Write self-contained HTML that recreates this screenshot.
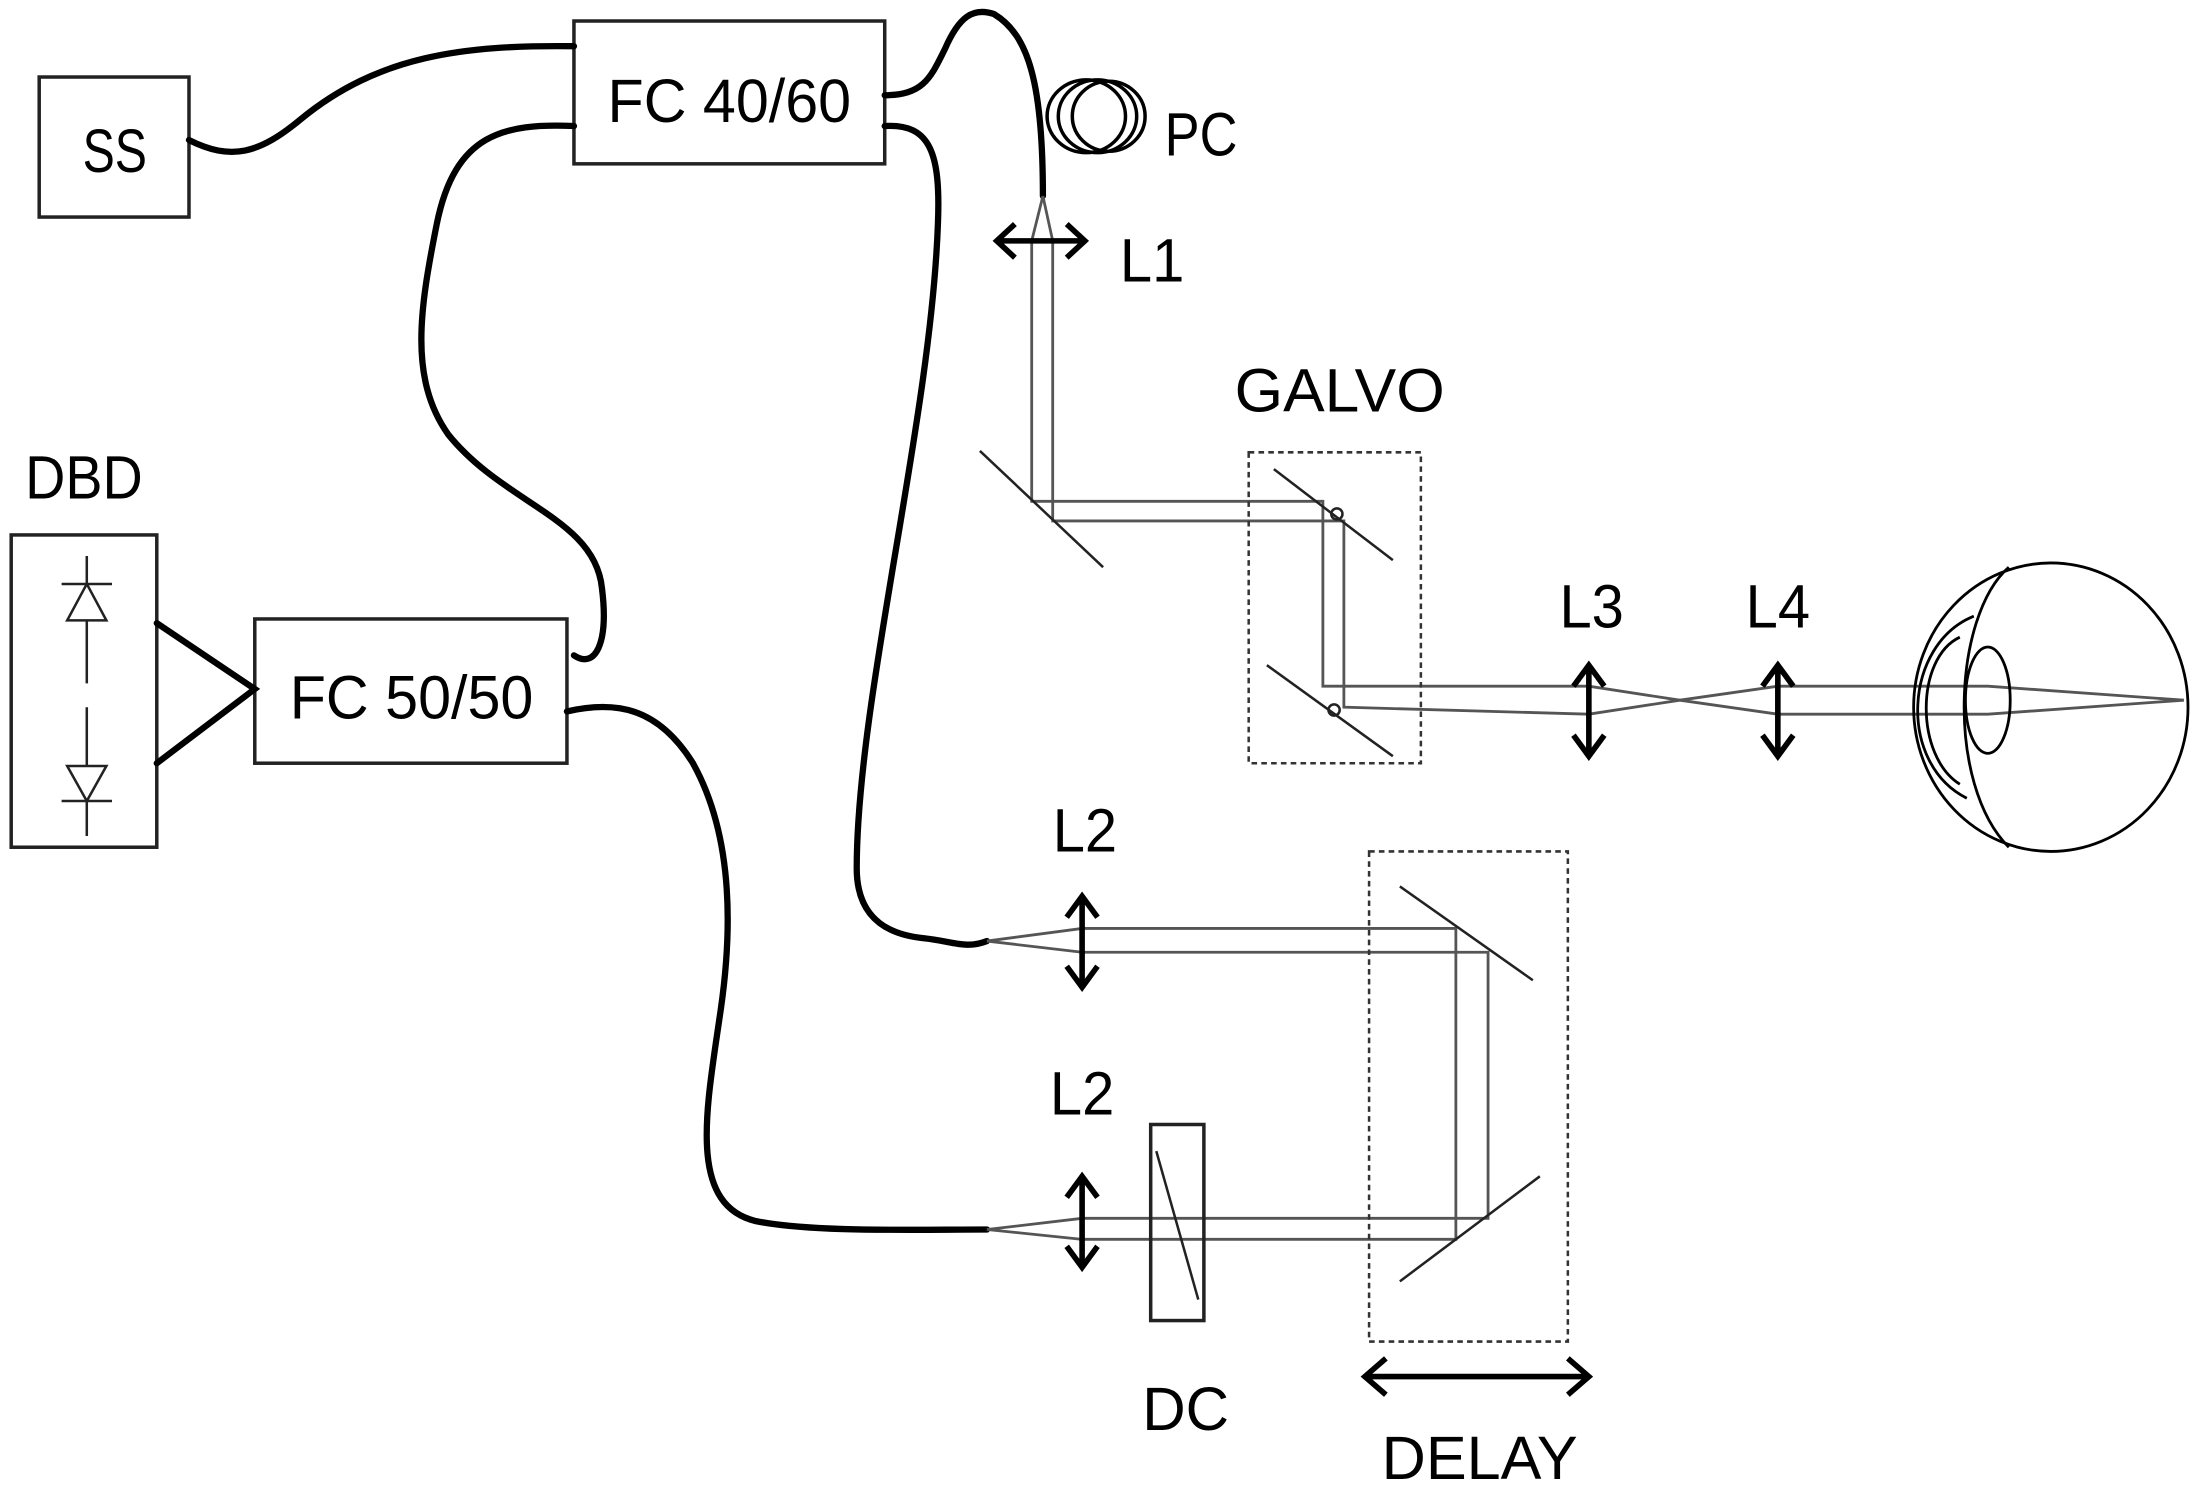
<!DOCTYPE html>
<html><head><meta charset="utf-8"><style>html,body{margin:0;padding:0;background:#fff}svg{display:block}</style></head>
<body>
<svg width="2195" height="1490" viewBox="0 0 1568 1064" preserveAspectRatio="none" xmlns="http://www.w3.org/2000/svg">
<g font-family="Liberation Sans, sans-serif" font-size="44" fill="#000" text-anchor="middle">
<!-- boxes -->
<g fill="none" stroke="#222" stroke-width="2.5">
<rect x="28" y="55" width="107" height="100"/>
<rect x="410" y="15" width="222" height="102"/>
<rect x="182" y="442" width="223" height="103"/>
<rect x="8" y="382" width="104" height="223"/>
</g>
<text x="82" y="123" textLength="46" lengthAdjust="spacingAndGlyphs">SS</text>
<text x="521" y="87" textLength="174" lengthAdjust="spacingAndGlyphs">FC 40/60</text>
<text x="294" y="513" textLength="174" lengthAdjust="spacingAndGlyphs">FC 50/50</text>
<text x="60" y="356" textLength="84" lengthAdjust="spacingAndGlyphs">DBD</text>
<!-- diodes -->
<g stroke="#222" stroke-width="1.8" fill="none">
<line x1="62" y1="397" x2="62" y2="488"/><line x1="62" y1="505" x2="62" y2="597"/>
<line x1="44" y1="417" x2="80" y2="417"/><polygon points="62,417 48,443 76,443" fill="#fff"/>
<line x1="44" y1="572" x2="80" y2="572"/><polygon points="62,572 48,547 76,547" fill="#fff"/>
</g>
<!-- fibers -->
<g fill="none" stroke="#000" stroke-width="4.5" stroke-linecap="round">
<path d="M112,445 L182,492 L112,545"/>
<path d="M135,100 C165,115 185,110 215,85 C270,40 330,32 410,33"/>
<path d="M410,90 C360,88 325,95 312,160 C300,220 292,270 320,310 C360,360 425,370 430,420 C435,460 425,478 410,468"/>
<path d="M632,68 C660,68 665,55 675,35 C685,12 695,5 710,10 C735,25 745,60 745,140"/>
<path d="M632,90 C665,88 672,110 670,160 C665,300 612,500 612,620 C612,660 640,668 660,670 C680,672 690,678 705,672"/>
<path d="M405,508 C440,500 470,505 495,545 C520,590 525,650 515,720 C505,790 490,860 540,872 C580,880 650,878 705,878"/>
</g>
<!-- PC coils -->
<g fill="none" stroke="#000" stroke-width="2.5">
<ellipse cx="776" cy="83" rx="28" ry="26"/>
<ellipse cx="784" cy="83" rx="28" ry="26"/>
<ellipse cx="792" cy="83" rx="26" ry="25"/>
</g>
<text x="858" y="111" textLength="52" lengthAdjust="spacingAndGlyphs">PC</text>
<!-- beams -->
<g fill="none" stroke="#555" stroke-width="2">
<path d="M745,140 L737,172 L737,358 L945,358 L945,490 L1135,490 L1200,500 L1270,510 L1365,510 L1420,510 L1560,500"/>
<path d="M745,140 L752,172 L752,372 L960,372 L960,505 L1135,510 L1200,500 L1270,490 L1420,490 L1560,500"/>
<path d="M705,672 L773,663 L1040,663 L1040,885 L773,885 L705,878"/>
<path d="M705,672 L773,680 L1063,680 L1063,870 L773,870 L705,878"/>
</g>
<!-- mirrors -->
<g stroke="#222" stroke-width="1.8" fill="none">
<line x1="700" y1="322" x2="788" y2="405"/>
<line x1="910" y1="335" x2="995" y2="400"/>
<line x1="905" y1="475" x2="995" y2="540"/>
<line x1="1000" y1="633" x2="1095" y2="700"/>
<line x1="1000" y1="915" x2="1100" y2="840"/>
<circle cx="955" cy="367" r="4"/><circle cx="953" cy="507" r="4"/>
<rect x="822" y="803" width="38" height="140" stroke-width="2.5"/>
<line x1="826" y1="822" x2="856" y2="928"/>
</g>
<!-- dashed boxes -->
<g fill="none" stroke="#333" stroke-width="1.8" stroke-dasharray="4,3">
<rect x="892" y="323" width="123" height="222"/>
<rect x="978" y="608" width="142" height="350"/>
</g>
<!-- lenses -->
<g fill="none" stroke="#000" stroke-width="4">
<path d="M712,172 L775,172 M725,160 L712,172 L725,184 M762,160 L775,172 L762,184"/>
<path d="M1135,475 L1135,540 M1124,490 L1135,475 L1146,490 M1124,525 L1135,540 L1146,525"/>
<path d="M1270,475 L1270,540 M1259,490 L1270,475 L1281,490 M1259,525 L1270,540 L1281,525"/>
<path d="M773,640 L773,705 M762,655 L773,640 L784,655 M762,690 L773,705 L784,690"/>
<path d="M773,840 L773,905 M762,855 L773,840 L784,855 M762,890 L773,905 L784,890"/>
<path d="M975,983 L1135,983 M990,970 L975,983 L990,996 M1120,970 L1135,983 L1120,996"/>
</g>
<!-- eye -->
<g fill="none" stroke="#000" stroke-width="2">
<ellipse cx="1465" cy="505" rx="98" ry="103"/>
<path d="M1435,405 C1395,440 1390,560 1435,605"/>
<path d="M1410,440 C1360,460 1355,545 1405,570"/>
<path d="M1400,455 C1368,470 1368,540 1400,560"/>
<ellipse cx="1420" cy="500" rx="16" ry="38"/>
</g>
<!-- labels -->
<text x="823" y="201" textLength="46" lengthAdjust="spacingAndGlyphs">L1</text>
<text x="957" y="294" textLength="150" lengthAdjust="spacingAndGlyphs">GALVO</text>
<text x="1137" y="448" textLength="46" lengthAdjust="spacingAndGlyphs">L3</text>
<text x="1270" y="448" textLength="46" lengthAdjust="spacingAndGlyphs">L4</text>
<text x="775" y="608" textLength="46" lengthAdjust="spacingAndGlyphs">L2</text>
<text x="773" y="796" textLength="46" lengthAdjust="spacingAndGlyphs">L2</text>
<text x="847" y="1021" textLength="62" lengthAdjust="spacingAndGlyphs">DC</text>
<text x="1057" y="1056" textLength="140" lengthAdjust="spacingAndGlyphs">DELAY</text>
</g>
</svg>
</body></html>
